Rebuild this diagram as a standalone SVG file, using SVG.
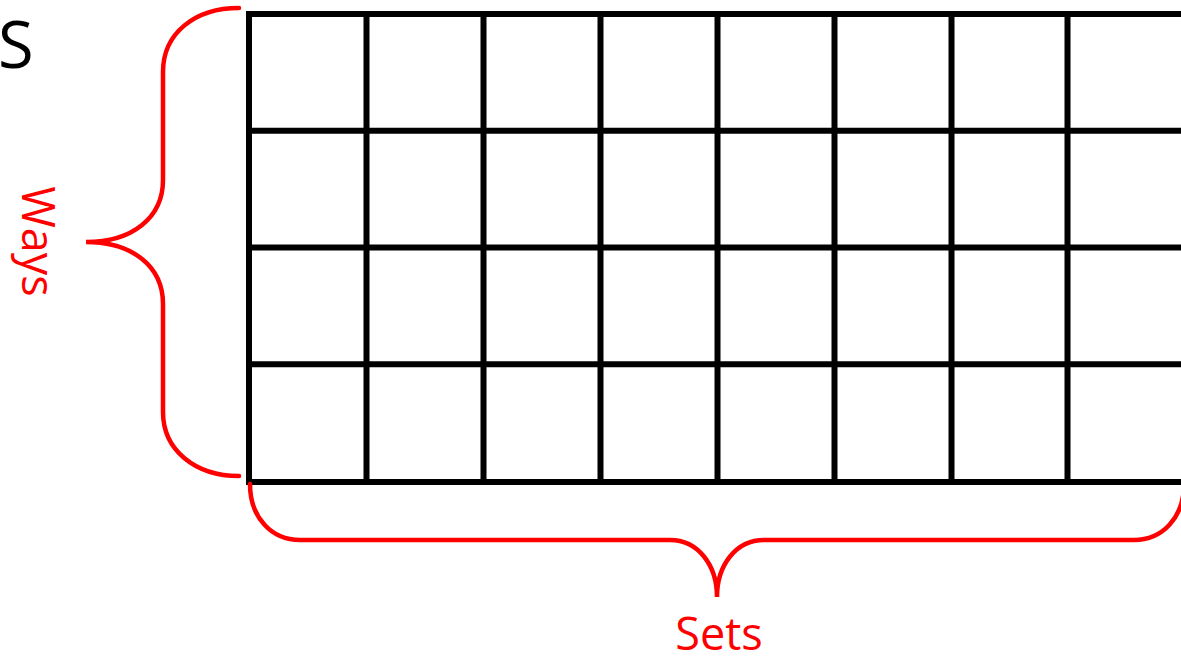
<svg xmlns="http://www.w3.org/2000/svg" width="1181" height="657" viewBox="0 0 1181 657">
<style>
.grid{stroke:#000;stroke-width:6;fill:none}
.brace{stroke:#f00;stroke-width:4.5;fill:none;stroke-linecap:round}
.lbl{font-family:"Open Sans","Liberation Sans",sans-serif;}
</style>
<rect width="1181" height="657" fill="#fff"/>
<g id="grid" class="grid">
<line x1="246" y1="14" x2="1184" y2="14"/>
<line x1="246" y1="130.75" x2="1184" y2="130.75"/>
<line x1="246" y1="247.5" x2="1184" y2="247.5"/>
<line x1="246" y1="364.25" x2="1184" y2="364.25"/>
<line x1="246" y1="482" x2="1184" y2="482"/>
<line x1="249" y1="11" x2="249" y2="485"/>
<line x1="366.5" y1="11" x2="366.5" y2="485"/>
<line x1="483.5" y1="11" x2="483.5" y2="485"/>
<line x1="600.5" y1="11" x2="600.5" y2="485"/>
<line x1="717.5" y1="11" x2="717.5" y2="485"/>
<line x1="834.5" y1="11" x2="834.5" y2="485"/>
<line x1="951.5" y1="11" x2="951.5" y2="485"/>
<line x1="1067.5" y1="11" x2="1067.5" y2="485"/>
</g>
<g id="connectors">
<path id="ways-brace" class="brace" d="M239 8 C195 8 163 33 163 72 L163 180 C163 218 132 242 86 242 C132 242 163 266 163 304 L163 412 C163 450 195 476 239 476"/>
<path id="sets-brace" class="brace" d="M250 484 C250 518 272 540 300 540 L670 540 C698 540 717 565 717 597 C717 565 736 540 764 540 L1134 540 C1162 540 1184 518 1184 484"/>
</g>
<g id="label-s"><text class="lbl" x="-2" y="68" font-size="65" fill="#000">S</text></g>
<g id="label-ways"><text class="lbl" transform="translate(22,241.5) rotate(90)" text-anchor="middle" font-size="45" fill="#f00">Ways</text></g>
<g id="label-sets"><text class="lbl" x="719" y="650" text-anchor="middle" font-size="45" fill="#f00">Sets</text></g>
</svg>
